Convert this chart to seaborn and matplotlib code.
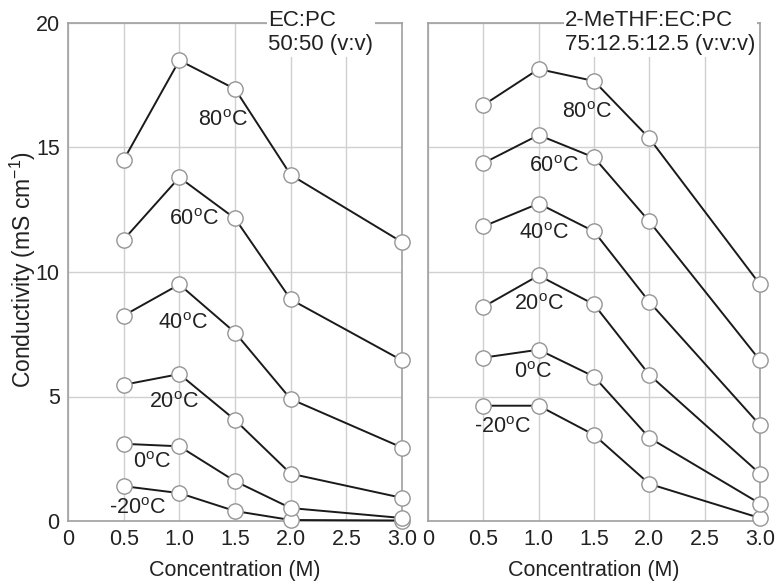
import numpy as np
import pandas as pd
import matplotlib
matplotlib.use("Agg")
import matplotlib.pyplot as plt
import seaborn as sns

# ---- data ----
conc = [0.5, 1.0, 1.5, 2.0, 3.0]
temps = ["80", "60", "40", "20", "0", "-20"]

ecpc_80 = [14.5, 18.5, 17.35, 13.9, 11.2]
ecpc_60 = [11.3, 13.8, 12.15, 8.9, 6.45]
ecpc_40 = [8.25, 9.5, 7.57, 4.9, 2.95]
ecpc_20 = [5.47, 5.9, 4.06, 1.9, 0.93]
ecpc_0 = [3.1, 3.0, 1.6, 0.52, 0.12]
ecpc_m20 = [1.4, 1.12, 0.4, 0.04, 0.02]

mthf_80 = [16.7, 18.15, 17.67, 15.37, 9.5]
mthf_60 = [14.37, 15.5, 14.6, 12.03, 6.45]
mthf_40 = [11.83, 12.75, 11.63, 8.8, 3.85]
mthf_20 = [8.6, 9.86, 8.7, 5.87, 1.9]
mthf_0 = [6.56, 6.88, 5.8, 3.34, 0.7]
mthf_m20 = [4.63, 4.63, 3.46, 1.49, 0.12]

# label positions (data coordinates)
ecpc_lab_x = [1.39, 1.13, 1.03, 0.95, 0.75, 0.62]
ecpc_lab_y = [16.1, 12.1, 7.95, 4.75, 2.33, 0.5]
mthf_lab_x = [1.44, 1.14, 1.05, 1.0, 0.95, 0.67]
mthf_lab_y = [16.4, 14.25, 11.55, 8.7, 5.95, 3.75]

xticks = [0, 0.5, 1.0, 1.5, 2.0, 2.5, 3.0]
xticklabels = ["0", "0.5", "1.0", "1.5", "2.0", "2.5", "3.0"]
yticks = [0, 5, 10, 15, 20]

sns.set_style("white")
plt.rcParams["font.family"] = ["Liberation Sans", "DejaVu Sans"]
plt.rcParams["mathtext.fontset"] = "custom"
plt.rcParams["mathtext.rm"] = "Liberation Sans"
plt.rcParams["mathtext.it"] = "Liberation Sans:italic"

FS = 15.5
TXT = "#222222"

def make_df(series):
    rows = []
    for t, vals in zip(temps, series):
        for c, v in zip(conc, vals):
            rows.append({"conc": c, "cond": v, "temp": t})
    return pd.DataFrame(rows)

df_left = make_df([ecpc_80, ecpc_60, ecpc_40, ecpc_20, ecpc_0, ecpc_m20])
df_right = make_df([mthf_80, mthf_60, mthf_40, mthf_20, mthf_0, mthf_m20])

fig = plt.figure(figsize=(7.75, 5.85), dpi=100)
axL = fig.add_axes([68/775, 1-521/585, 334/775, 498/585])
axR = fig.add_axes([428/775, 1-521/585, 332/775, 498/585])

spine_col = "#a0a0a0"
grid_col = "#d0d0d0"

panels = [
    (axL, df_left, ecpc_lab_x, ecpc_lab_y, "EC:PC\n50:50 (v:v)", 0.60),
    (axR, df_right, mthf_lab_x, mthf_lab_y, "2-MeTHF:EC:PC\n75:12.5:12.5 (v:v:v)", 0.413),
]

for ax, df, lx, ly, title, tx in panels:
    ax.set_xlim(0, 3.0)
    ax.set_ylim(0, 20)
    ax.set_xticks(xticks)
    ax.set_xticklabels(xticklabels)
    ax.set_yticks(yticks)
    ax.grid(True, color=grid_col, linewidth=1.0)
    ax.set_axisbelow(True)
    for s in ax.spines.values():
        s.set_color(spine_col)
        s.set_linewidth(1.2)
    sns.lineplot(data=df, x="conc", y="cond", units="temp", estimator=None,
                 color="#1a1a1a", linewidth=1.4, marker="o", markersize=11,
                 markerfacecolor="white", markeredgecolor="#959595",
                 markeredgewidth=1.0, ax=ax, clip_on=False, zorder=3)
    for t, x, y in zip(temps, lx, ly):
        ax.text(x, y, t + r"$^{\mathrm{o}}$C", fontsize=FS, ha="center",
                va="center", color=TXT, zorder=4)
    ax.text(tx, 1.026, title, transform=ax.transAxes, ha="left", va="top",
            fontsize=16, color=TXT, linespacing=1.2,
            bbox=dict(facecolor="white", edgecolor="none", pad=1.0), zorder=5)
    ax.tick_params(axis="both", length=0, labelsize=FS, colors=TXT, pad=6)
    ax.set_xlabel("Concentration (M)", fontsize=FS, color=TXT, labelpad=7)

axL.set_ylabel("")
axR.set_ylabel("")
axR.set_yticklabels([])
fig.text(23/775, 1-270/585, r"Conductivity (mS cm$^{-1}$)", rotation=90,
         ha="center", va="center", fontsize=16.5, color=TXT)

fig.savefig("out.png", dpi=100, facecolor="white")
